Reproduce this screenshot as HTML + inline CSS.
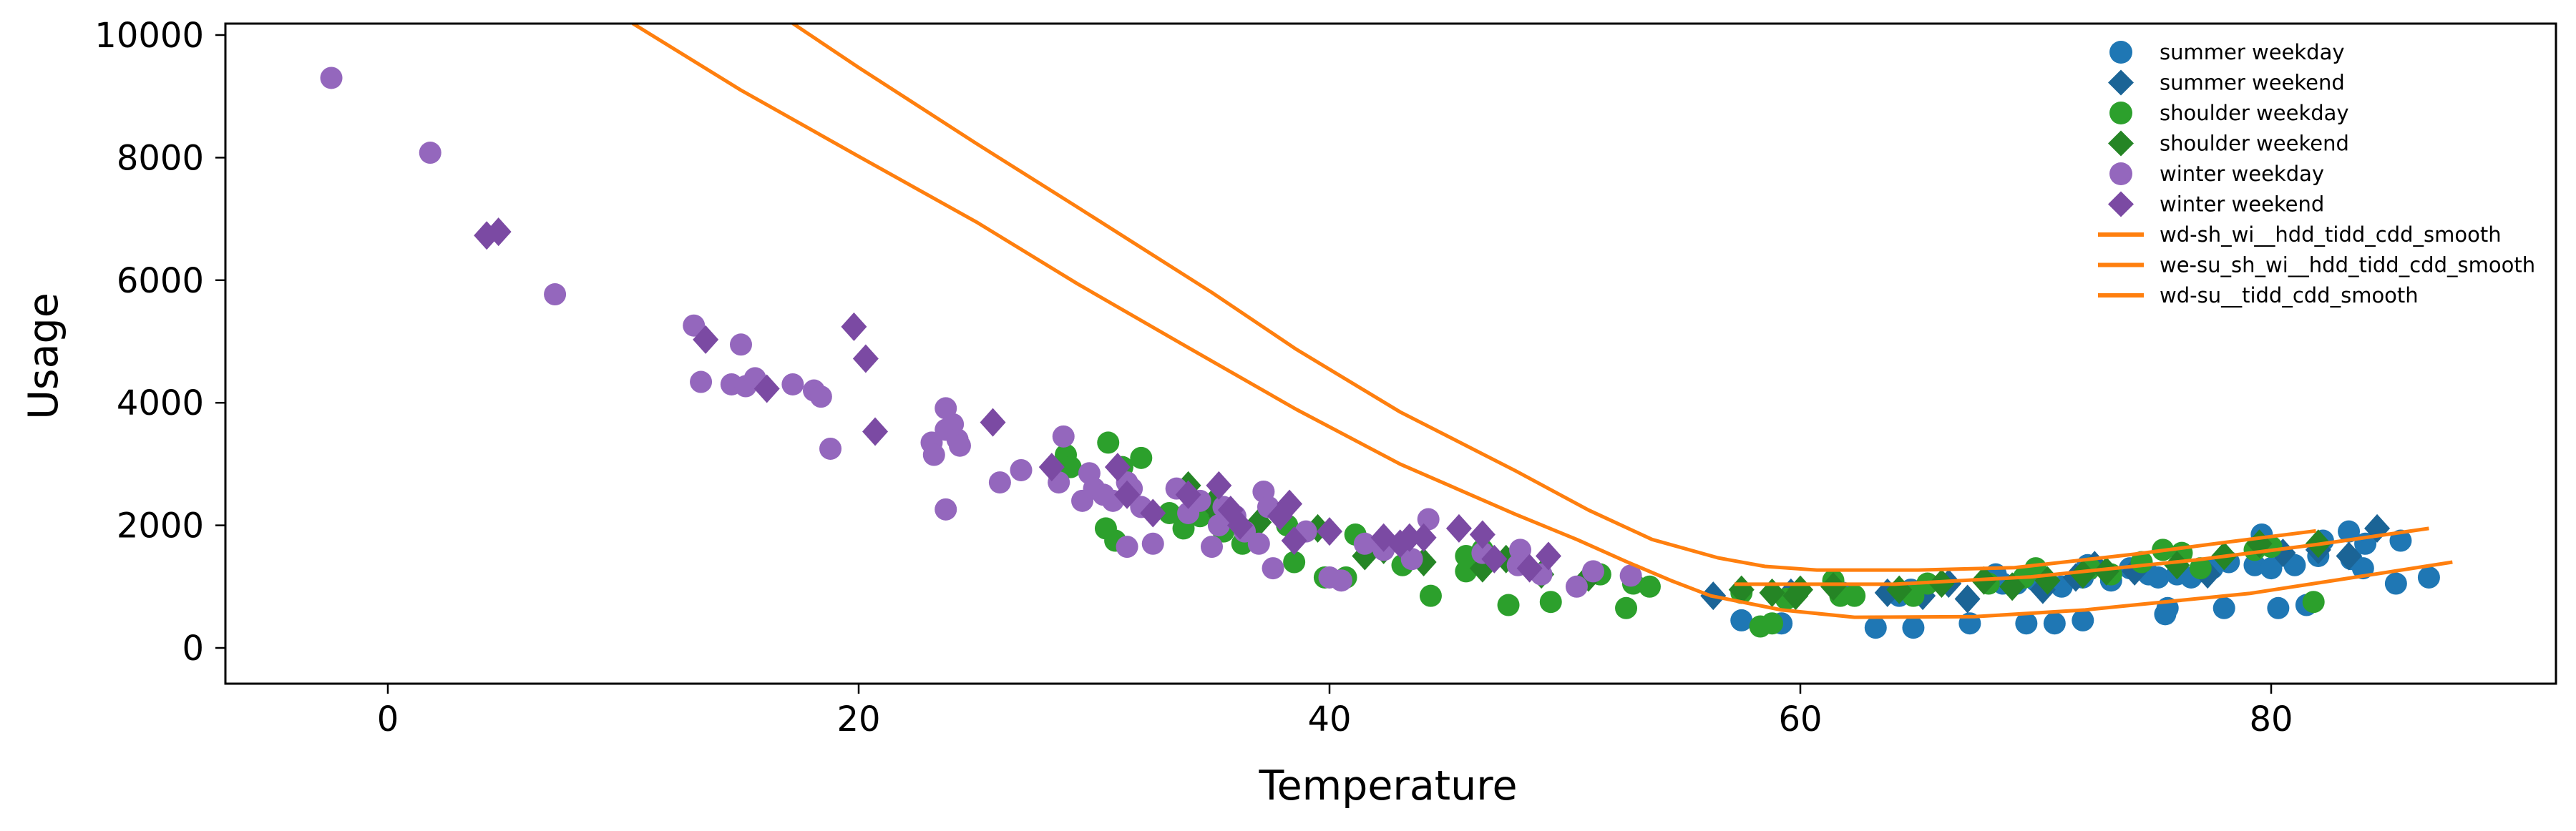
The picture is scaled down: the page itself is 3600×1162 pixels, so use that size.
<!DOCTYPE html>
<html><head><meta charset="utf-8"><style>
html,body{margin:0;padding:0;background:#fff;}
svg{display:block;font-family:"DejaVu Sans","Liberation Sans",sans-serif;}
</style></head>
<body>
<svg id="chart" width="3600" height="1162" viewBox="0 0 3600 1162" xmlns="http://www.w3.org/2000/svg">
<rect x="0" y="0" width="3600" height="1162" fill="#fff"/>
<g id="marks"></g>
<g id="axes"></g>
<g id="legend"></g>
</svg>
<script>
const xTicks = [0, 20, 40, 60, 80];
const yTicks = [0, 2000, 4000, 6000, 8000, 10000];

const winterWeekdayT = [-2.4,1.8,7.1,13,13.3,15,14.6,15.2,15.6,17.2,18.1,18.4,18.8,23.1,23.2,23.7,23.7,24,24.2,24.3,23.7,26,26.9,28.7,28.5,29.5,29.8,30,30.4,30.8,31.4,31.6,32,31.4,32.5,33.5,34,34.5,35,35.3,35.5,36,36.4,37,37.2,37.4,37.6,39,40.5,40,41.5,42.3,43.5,44.2,46.5,48.1,48,49,50.5,51.2,52.8];
const winterWeekdayU = [9300,8080,5770,5260,4340,4950,4300,4270,4400,4300,4200,4100,3250,3350,3150,3560,3910,3650,3400,3300,2260,2700,2900,3450,2700,2400,2850,2600,2500,2400,2700,2600,2300,1650,1700,2600,2200,2400,1650,2000,2300,2150,1900,1700,2550,2300,1300,1900,1100,1150,1700,1600,1450,2100,1550,1600,1350,1200,1000,1250,1180];
const winterWeekendT = [4.2,4.7,13.5,16.1,19.8,20.3,20.7,25.7,28.2,31,31.4,32.5,34,35.3,35.8,36.2,37.9,38.3,38.5,40,42.3,43,43.4,44,45.5,46.5,47,48.5,49.3];
const winterWeekendU = [6730,6790,5030,4230,5240,4720,3530,3680,2950,2950,2500,2200,2500,2650,2250,2000,2150,2350,1750,1900,1800,1700,1800,1800,1950,1850,1450,1300,1500];
const shoulderWeekdayT = [28.8,30.6,29,31.2,32,30.5,30.9,33.2,33.8,34.5,35.5,36.3,38.2,38.5,39.8,40.7,41.1,43.1,44.3,45.8,45.8,46.5,47.6,48.1,49.4,51.5,52.6,52.9,53.6,57.5,58.3,58.8,59.4,61.4,61.7,62.3,64.8,65.4,68,69.5,70,72.3,73.2,74.5,75.4,76.2,79.3,80,81.8,77];
const shoulderWeekdayU = [3150,3350,2950,2950,3100,1950,1750,2200,1950,2150,1900,1700,2000,1400,1150,1150,1850,1350,850,1500,1250,1600,700,1400,750,1200,650,1050,1000,900,350,400,800,1100,850,850,850,1050,1050,1150,1300,1300,1200,1400,1600,1550,1600,1650,750,1300];
const shoulderWeekendT = [34,35,35.4,37,39.5,41.5,42.3,44,46.5,47.5,49,51,57.5,58.8,59.8,60,61.4,64.2,66,67.8,69,70.5,72,73,76,78,79.5,82];
const shoulderWeekendU = [2650,2350,2150,2050,1950,1500,1600,1400,1300,1450,1200,1150,950,900,850,950,1000,950,1050,1100,1000,1100,1200,1250,1350,1500,1700,1700];
const summerWeekdayT = [57.5,59.2,61.8,63.2,64.2,64.7,64.8,67.2,68.3,68.6,69.2,69.6,70,70.8,71.1,72,72.2,72,73.2,74,74.8,75.2,75.5,75.6,76,76.6,77,77.5,78,78.2,79.3,79.6,80,80.3,81,81.5,82,82.2,83.3,83.4,83.9,84,85.3,85.5,86.7];
const summerWeekdayU = [450,400,900,330,850,950,330,400,1200,1050,1050,400,1100,400,1000,1150,1350,450,1100,1300,1200,1150,550,650,1200,1150,1250,1300,650,1400,1350,1850,1300,650,1350,700,1500,1750,1900,1450,1300,1700,1050,1750,1150];
const summerWeekendT = [56.3,59.6,63.7,65.2,66.3,67.1,70.3,71.7,72.5,74.2,77.3,80.5,82,83.3,84.5];
const summerWeekendU = [850,900,900,850,1050,800,950,1150,1350,1250,1200,1550,1600,1500,1950];

const lineAT = [10.4,15,20,25,29.3,34,38.6,43,47.9,50.5,52.6,54.5,56.2,59.2,62.3,67.4,72.1,79.1,83,87.7];
const lineAU = [10190,9100,8020,6950,5940,4900,3890,3000,2180,1770,1410,1100,850,620,500,510,620,890,1120,1400];
const lineBT = [17.2,20,25,29.3,35,38.6,43,47.9,51,53.7,56.5,58.5,60.7,65,69.1,74.2,78,81.9];
const lineBU = [10190,9470,8230,7190,5800,4870,3850,2890,2250,1770,1470,1330,1270,1270,1310,1530,1720,1910];
const lineCT = [57.2,64,69.8,76.8,82,86.7];
const lineCU = [1040,1040,1160,1435,1690,1950];

const NS = "http://www.w3.org/2000/svg";
const L = 315, R = 3572, T = 33, B = 956;
function xs(t){ return 542 + t * 32.9; }
function ys(u){ return 906 - u * 0.0857; }
function mk(tag, attrs, parent){ const e = document.createElementNS(NS, tag); for (const k in attrs) e.setAttribute(k, attrs[k]); parent.appendChild(e); return e; }

const marks = document.getElementById('marks');
const axes = document.getElementById('axes');
const legend = document.getElementById('legend');
const defs = mk('defs', {}, document.getElementById('chart'));
const cp = mk('clipPath', {id: 'clip'}, defs);
mk('rect', {x: L, y: T, width: R - L, height: B - T}, cp);
marks.setAttribute('clip-path', 'url(#clip)');

function circles(ts, us, color, name){
  for (let i = 0; i < ts.length; i++){
    const c = mk('circle', {cx: xs(ts[i]), cy: ys(us[i]), r: 15.5, fill: color}, marks);
    
    
  }
}
function diamonds(ts, us, color, name){
  for (let i = 0; i < ts.length; i++){
    const x = xs(ts[i]), y = ys(us[i]);
    const p = mk('polygon', {points: `${x},${y-20} ${x+18},${y} ${x},${y+20} ${x-18},${y}`, fill: color}, marks);
    
    
  }
}
function line(ts, us, name){
  const pts = ts.map((t, i) => xs(t) + ',' + ys(us[i])).join(' ');
  const p = mk('polyline', {points: pts, fill: 'none', stroke: '#ff7f0e', 'stroke-width': 5, 'stroke-linejoin': 'round'}, marks);
  
  
}

const cSumWd = '#1f77b4', cSumWe = '#1b6496', cShWd = '#2ca02c', cShWe = '#258525', cWiWd = '#9467bd', cWiWe = '#7b4aa3';
circles(summerWeekdayT, summerWeekdayU, cSumWd, 'summer-weekday');
diamonds(summerWeekendT, summerWeekendU, cSumWe, 'summer-weekend');
circles(shoulderWeekdayT, shoulderWeekdayU, cShWd, 'shoulder-weekday');
diamonds(shoulderWeekendT, shoulderWeekendU, cShWe, 'shoulder-weekend');
circles(winterWeekdayT, winterWeekdayU, cWiWd, 'winter-weekday');
diamonds(winterWeekendT, winterWeekendU, cWiWe, 'winter-weekend');
line(lineBT, lineBU, 'wd-sh-wi-line');
line(lineAT, lineAU, 'we-su-sh-wi-line');
line(lineCT, lineCU, 'wd-su-line');

const frame = mk('rect', {x: L, y: T, width: R - L, height: B - T, fill: 'none', stroke: '#000', 'stroke-width': 3}, axes);


xTicks.forEach(v => {
  const x = xs(v);
  const tk = mk('line', {x1: x, y1: B, x2: x, y2: B + 14, stroke: '#000', 'stroke-width': 2.5}, axes);
  
  
  const tx = mk('text', {x: x, y: B + 66, 'font-size': 48, 'text-anchor': 'middle', fill: '#000'}, axes);
  tx.textContent = v;
  
  
});
yTicks.forEach(v => {
  const y = ys(v);
  const tk = mk('line', {x1: L - 14, y1: y, x2: L, y2: y, stroke: '#000', 'stroke-width': 2.5}, axes);
  
  
  const tx = mk('text', {x: L - 30, y: y + 17, 'font-size': 48, 'text-anchor': 'end', fill: '#000'}, axes);
  tx.textContent = v;
  
  
});
const xl = mk('text', {x: 1940, y: 1118, 'font-size': 57, 'text-anchor': 'middle', fill: '#000'}, axes);
xl.textContent = 'Temperature';


const yl = mk('text', {x: 0, y: 0, 'font-size': 57, 'text-anchor': 'middle', fill: '#000', transform: 'translate(80,498) rotate(-90)'}, axes);
yl.textContent = 'Usage';



const entries = [
  ['summer weekday', 'c', cSumWd], ['summer weekend', 'd', cSumWe],
  ['shoulder weekday', 'c', cShWd], ['shoulder weekend', 'd', cShWe],
  ['winter weekday', 'c', cWiWd], ['winter weekend', 'd', cWiWe],
  ['wd-sh_wi__hdd_tidd_cdd_smooth', 'l', '#ff7f0e'],
  ['we-su_sh_wi__hdd_tidd_cdd_smooth', 'l', '#ff7f0e'],
  ['wd-su__tidd_cdd_smooth', 'l', '#ff7f0e']
];
entries.forEach((e, i) => {
  const y = 73 + i * 42.5;
  const g = mk('g', {}, legend);
  
  
  if (e[1] === 'c') mk('circle', {cx: 2964, cy: y, r: 16, fill: e[2]}, g);
  else if (e[1] === 'd') mk('polygon', {points: `2964,${y-18} 2982,${y} 2964,${y+18} 2946,${y}`, fill: e[2]}, g);
  else mk('line', {x1: 2932, y1: y, x2: 2996, y2: y, stroke: e[2], 'stroke-width': 6}, g);
  const t = mk('text', {x: 3018, y: y + 10, 'font-size': 29, fill: '#000'}, g);
  t.textContent = e[0];
});
</script>
</body></html>
